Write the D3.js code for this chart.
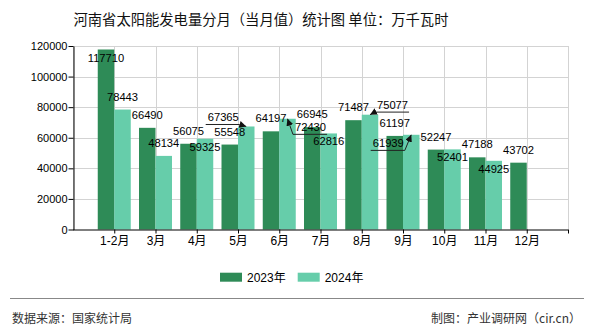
<!DOCTYPE html>
<html><head><meta charset="utf-8">
<script src="https://cdn.jsdelivr.net/npm/d3@7/dist/d3.min.js"></script>
<style>
html,body{margin:0;padding:0;background:#fff;}
svg{display:block;}
text{font-family:"Liberation Sans",Arial,"Noto Sans CJK SC",sans-serif;}
.cjk{font-family:"Noto Sans CJK SC","Liberation Sans",sans-serif;}
</style></head>
<body>
<script>
const months = ["1-2月","3月","4月","5月","6月","7月","8月","9月","10月","11月","12月"];
const values2023 = [117710,66490,56075,55548,64197,66945,71487,61197,52247,47188,43702];
const values2024 = [78443,48134,59325,67365,72430,62816,75077,61939,52401,44925,null];
const seriesNames = ["2023年","2024年"];
const yTicks = [0,20000,40000,60000,80000,100000,120000];
const colors = ["#2e8b57","#66cdaa"];

// label layout adjustments (overlap avoidance), keyed "series-index"
const labelLayout = {
  "0-0":{inside:true},
  "1-2":{inside:true},
  "1-3":{dx:-23,dy:4,leader:true},
  "1-4":{dx:23,dy:21.6,leader:true},
  "1-5":{inside:true},
  "1-6":{dx:22.5,dy:3.4,leader:true},
  "1-7":{dx:-23,dy:21.6,leader:true},
  "1-8":{inside:true},
  "1-9":{inside:true}
};

const W=590,H=330;
const L=73,R=568,T=46,B=229.5;
const svg=d3.select("body").append("svg").attr("width",W).attr("height",H);

const defs=svg.append("defs");
defs.append("marker").attr("id","arr").attr("viewBox","0 0 10 10").attr("refX",10).attr("refY",5)
  .attr("markerWidth",7).attr("markerHeight",7).attr("markerUnits","userSpaceOnUse").attr("orient","auto")
  .append("path").attr("d","M0,0L10,5L0,10Z").attr("fill","#111");

const x=d3.scalePoint().domain(months).range([L,R]).padding(1);
const y=d3.scaleLinear().domain([0,120000]).range([B,T]);
const bw=16.5;

// title
svg.append("text").attr("class","cjk").attr("x",261).attr("y",18).attr("text-anchor","middle")
  .attr("dominant-baseline","central").attr("font-size",14.3).attr("fill","#111")
  .text("河南省太阳能发电量分月（当月值）统计图 单位：万千瓦时");

// grid
const grid=svg.append("g");
grid.selectAll("line.h").data(yTicks.filter(d=>d>0)).join("line")
  .attr("x1",L).attr("x2",R).attr("y1",d=>Math.round(y(d))+0.5).attr("y2",d=>Math.round(y(d))+0.5)
  .attr("stroke","#d3d3d3");
const step=x.step();
const vlines=d3.range(0,13).map(k=>L+k*step);
grid.selectAll("line.v").data(vlines).join("line")
  .attr("x1",d=>Math.round(d)+0.5).attr("x2",d=>Math.round(d)+0.5).attr("y1",T).attr("y2",B)
  .attr("stroke","#d3d3d3");

// bars
const series=[values2023,values2024];
series.forEach((vals,s)=>{
  svg.append("g").selectAll("rect").data(vals.map((v,i)=>({v,i})).filter(d=>d.v!=null)).join("rect")
    .attr("x",d=>x(months[d.i])+(s===0?-bw:0)).attr("width",bw)
    .attr("y",d=>y(d.v)).attr("height",d=>B-y(d.v)).attr("fill",colors[s]);
});

// axes
const yAxis=d3.axisLeft(y).tickValues(yTicks).tickSize(5).tickSizeOuter(0).tickFormat(d3.format("d"));
const gy=svg.append("g").attr("transform",`translate(${L+0.5},0)`).call(yAxis);
gy.select(".domain").attr("stroke","#000");
gy.selectAll(".tick line").attr("stroke","#000");
gy.selectAll(".tick text").attr("font-size",11).attr("fill","#000").attr("x",-6)
  .style("font-family","'Liberation Sans',Arial,sans-serif");

const xAxis=d3.axisBottom(x).tickSize(4).tickSizeOuter(0);
const gx=svg.append("g").attr("transform",`translate(0,${B})`).call(xAxis);
gx.select(".domain").attr("stroke","#000").attr("d",`M${L},0.5H${R}`);
gx.selectAll(".tick line").attr("stroke","#000");
gx.selectAll(".tick text").attr("font-size",12).attr("fill","#000").attr("y",7)
  .style("font-family","'Liberation Sans','Noto Sans CJK SC',sans-serif");
gx.append("line").attr("x1",R+0.5).attr("x2",R+0.5).attr("y1",0).attr("y2",4).attr("stroke","#000");

// labels
const lab=svg.append("g");
series.forEach((vals,s)=>{
  vals.forEach((v,i)=>{
    if(v==null) return;
    const cx=x(months[i])+(s===0?-bw/2:bw/2);
    const top=y(v);
    const cfg=labelLayout[`${s}-${i}`]||{};
    let lx=cx, ly=top-13;
    if(cfg.inside){ ly=top+8; }
    if(cfg.dx!=null){ lx=cx+cfg.dx; ly=top-13+cfg.dy; }
    const t=lab.append("text").attr("x",lx).attr("y",ly).attr("text-anchor","middle")
      .attr("dominant-baseline","central").attr("font-size",11.2).attr("fill","#000").text(v);
    if(cfg.leader){
      const w=t.node().getComputedTextLength();
      const uy=ly+7, ul=lx-w/2-2, ur=lx+w/2+1;
      const near = Math.abs(cx-ul)<Math.abs(cx-ur)? ul:ur;
      const far = near===ul? ur:ul;
      lab.append("path").attr("d",`M${far},${uy}L${near},${uy}L${cx},${top}`)
        .attr("fill","none").attr("stroke","#222").attr("stroke-width",1)
        .attr("marker-end","url(#arr)");
    }
  });
});

// legend
const lg=svg.append("g");
seriesNames.forEach((n,s)=>{
  const lx=220+s*77.7;
  lg.append("rect").attr("x",lx).attr("y",272.7).attr("width",22).attr("height",9).attr("fill",colors[s]);
  lg.append("text").attr("x",lx+27).attr("y",277.5).attr("dominant-baseline","central")
    .attr("font-size",12).attr("fill","#000").style("font-family","'Liberation Sans','Noto Sans CJK SC',sans-serif").text(n);
});

// footer
svg.append("line").attr("x1",10).attr("x2",584).attr("y1",298.5).attr("y2",298.5).attr("stroke","#888");
svg.append("text").attr("class","cjk").attr("x",12).attr("y",317).attr("dominant-baseline","central")
  .attr("font-size",12).attr("fill","#333").text("数据来源：国家统计局");
svg.append("text").attr("class","cjk").attr("x",581).attr("y",317).attr("dominant-baseline","central")
  .attr("text-anchor","end").attr("font-size",12).attr("fill","#333").text("制图：产业调研网（cir.cn）");
</script>
</body></html>
